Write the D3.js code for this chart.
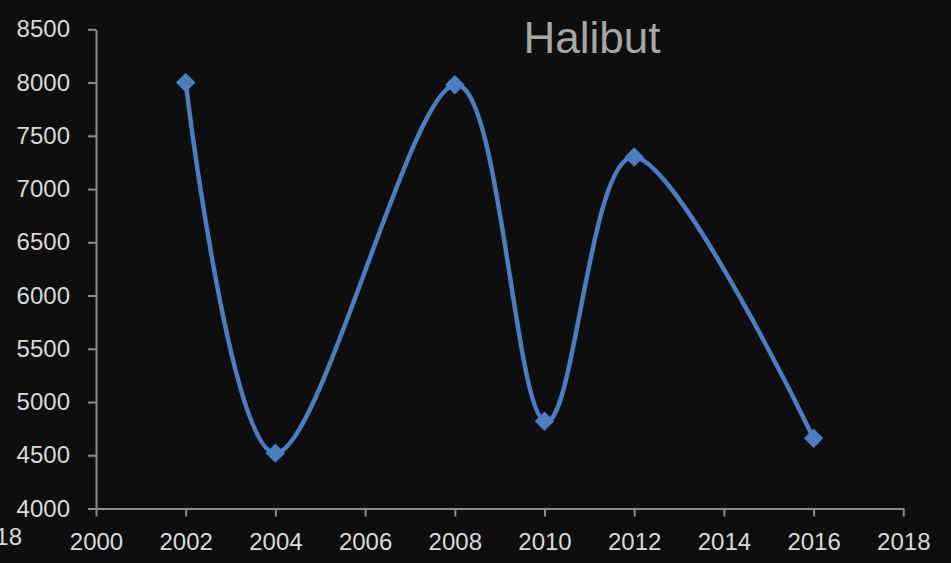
<!DOCTYPE html>
<html><head><meta charset="utf-8">
<script src="https://cdn.jsdelivr.net/npm/d3@7"></script>
<style>
html,body{margin:0;padding:0;background:#0e0e0e;}
svg{display:block;}
</style></head>
<body>
<svg id="chart" width="951" height="563"></svg>
<script>
const years = [2002, 2004, 2008, 2010, 2012, 2016];
const values = [8000, 4520, 7980, 4820, 7300, 4660];
const xTicks = [2000, 2002, 2004, 2006, 2008, 2010, 2012, 2014, 2016, 2018];
const yTicks = [4000, 4500, 5000, 5500, 6000, 6500, 7000, 7500, 8000, 8500];
const title = "Halibut";

const svg = d3.select("#chart");
svg.append("rect").attr("width", 951).attr("height", 563).attr("fill", "#0e0e0e");

const x = d3.scaleLinear().domain([2000, 2018]).range([96, 903.3]);
const y = d3.scaleLinear().domain([4000, 8500]).range([508.5, 29.3]);

const axisColor = "#8c8c8c";
const labelColor = "#d9d9d9";
const font = "'Liberation Sans', Arial, sans-serif";

const xAxis = svg.append("g").attr("transform", `translate(0,${y(4000)})`)
  .call(d3.axisBottom(x).tickValues(xTicks).tickFormat(d3.format("d")).tickSizeInner(8).tickSizeOuter(0).tickPadding(16));
const yAxis = svg.append("g").attr("transform", `translate(${x(2000)},0)`)
  .call(d3.axisLeft(y).tickValues(yTicks).tickFormat(d3.format("d")).tickSizeInner(8).tickSizeOuter(0).tickPadding(18));

[xAxis, yAxis].forEach(g => {
  g.select(".domain").attr("stroke", axisColor).attr("stroke-width", 2);
  g.selectAll(".tick line").attr("stroke", axisColor).attr("stroke-width", 2);
  g.selectAll(".tick text").attr("fill", labelColor).style("font-family", font).style("font-size", "24px");
});

// clipped extra label at left edge
svg.append("text").attr("x", 22).attr("y", 545).attr("text-anchor", "end")
  .attr("fill", labelColor).style("font-family", font).style("font-size", "24px").text("2018");

svg.append("text").attr("x", 592).attr("y", 53).attr("text-anchor", "middle")
  .attr("fill", "#a6a6a6").style("font-family", font).style("font-size", "44px").text(title);

const pts = years.map((yr, i) => [x(yr), y(values[i])]);
const line = d3.line().curve(d3.curveCardinal.tension(0));
svg.append("path").attr("d", line(pts)).attr("fill", "none")
  .attr("stroke", "#4a7ebf").attr("stroke-width", 4.5).attr("stroke-linejoin", "round");

const sym = d3.symbol().type(d3.symbolSquare).size(190);
svg.selectAll(".mk").data(pts).enter().append("path")
  .attr("d", sym())
  .attr("transform", d => `translate(${d[0]},${d[1]}) rotate(45)`)
  .attr("fill", "#4a7ebf");
</script>
</body></html>
